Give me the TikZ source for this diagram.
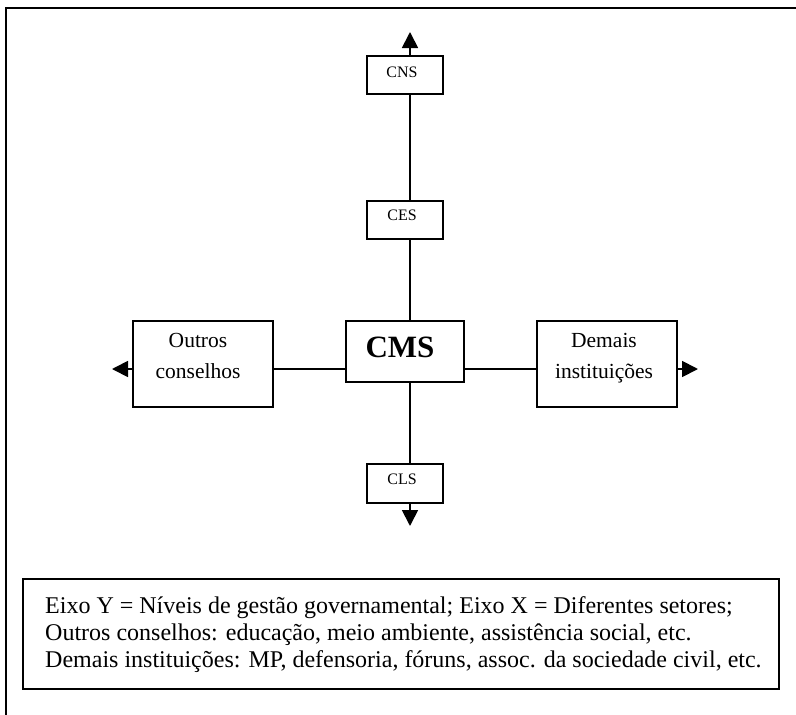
\documentclass[tikz,border=0pt]{standalone}
\usepackage{fontspec}
\setmainfont{Liberation Serif}
\usetikzlibrary{arrows.meta}
\begin{document}
\begin{tikzpicture}[x=1pt,y=-1pt,
  box/.style={draw=black,line width=2pt,inner sep=0pt,fill=white},
  lab/.style={inner sep=0pt,anchor=base,align=center},
  small/.style={lab,font=\fontsize{16}{19}\selectfont},
  mid/.style={lab,font=\fontsize{21.5}{31}\selectfont},
  big/.style={lab,font=\fontsize{31}{36}\selectfont\bfseries},
  leg/.style={inner sep=0pt,anchor=base west,font=\fontsize{24}{27}\selectfont},
  conn/.style={line width=1.8pt},
  arr/.style={conn,-{Triangle[width=16pt,length=16pt]}}]
\useasboundingbox (0,0) rectangle (796,715);
% outer frame
\draw[line width=2pt] (6,715) -- (6,8) -- (796,8);
% guide coordinates
\coordinate (vx) at (410,0);
\coordinate (hy) at (0,369);
\coordinate (ntip) at (410,32);
\coordinate (stip) at (410,526);
\coordinate (wtip) at (112,369);
\coordinate (etip) at (698,369);
% boxes
\node[box,minimum width=76pt,minimum height=38pt] (cns) at (405,75) {};
\node[box,minimum width=76pt,minimum height=38pt] (ces) at (405,220) {};
\node[box,minimum width=118pt,minimum height=61pt] (cms) at (405,351.5) {};
\node[box,minimum width=76pt,minimum height=39pt] (cls) at (405,483.5) {};
\node[box,minimum width=140pt,minimum height=86pt] (oc) at (203,364) {};
\node[box,minimum width=140pt,minimum height=86pt] (di) at (607,364) {};
% connectors
\draw[arr] (cns.north -| vx) -- (ntip);
\draw[conn] (cns.south -| vx) -- (ces.north -| vx);
\draw[conn] (ces.south -| vx) -- (cms.north -| vx);
\draw[conn] (cms.south -| vx) -- (cls.north -| vx);
\draw[arr] (cls.south -| vx) -- (stip);
\draw[arr] (oc.west |- hy) -- (wtip);
\draw[conn] (oc.east |- hy) -- (cms.west |- hy);
\draw[conn] (cms.east |- hy) -- (di.west |- hy);
\draw[arr] (di.east |- hy) -- (etip);
% labels
\node[small] (tcns) at (402,77) {CNS};
\node[small] (tces) at (402,220) {CES};
\node[small] (tcls) at (402,484) {CLS};
\node[big] (tcms) at (400,357) {CMS};
\node[mid] (toc) at (198,378) {Outros\\conselhos};
\node[mid] (tdi) at (604,378) {Demais\\instituições};
% legend
\node[box,minimum width=756pt,minimum height=110pt] (legbox) at (401,634) {};
\node[leg] (leg1) at (45,613) {Eixo Y = Níveis de gestão governamental; Eixo X = Diferentes setores;};
\node[leg] (leg2) at (45,640) {Outros conselhos: educação, meio ambiente, assistência social, etc.};
\node[leg] (leg3) at (45,667) {Demais instituições: MP, defensoria, fóruns, assoc. da sociedade civil, etc.};
\end{tikzpicture}
\end{document}
